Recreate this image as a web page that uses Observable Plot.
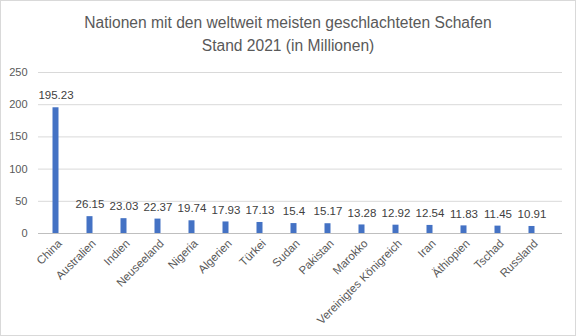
<!DOCTYPE html>
<html><head><meta charset="utf-8">
<script src="https://cdn.jsdelivr.net/npm/d3@7"></script>
<script src="https://cdn.jsdelivr.net/npm/@observablehq/plot@0.6"></script>
<style>
body{margin:0;background:#fff;}
#wrap{position:relative;width:576px;height:336px;box-sizing:border-box;border:1px solid #d9d9d9;overflow:hidden;font-family:"Liberation Sans",Arial,sans-serif;}
#title{text-align:center;color:#595959;font-size:15.6px;line-height:23px;padding-top:10px;height:46px;}
#chart svg{display:block;}
</style></head>
<body><div id="wrap"><div id="title">Nationen mit den weltweit meisten geschlachteten Schafen<br>Stand 2021 (in Millionen)</div><div id="chart"></div></div>
<script>
const countries = ["China","Australien","Indien","Neuseeland","Nigeria","Algerien","Türkei","Sudan","Pakistan","Marokko","Vereinigtes Königreich","Iran","Äthiopien","Tschad","Russland"];
const values = [195.23,26.15,23.03,22.37,19.74,17.93,17.13,15.4,15.17,13.28,12.92,12.54,11.83,11.45,10.91];
const yTicks = [0,50,100,150,200,250];
const data = countries.map((c,i)=>({country:c,value:values[i]}));
const shift = -6.5;
const plot = Plot.plot({
  width: 574, height: 279,
  marginTop: 15, marginBottom: 103, marginLeft: 37, marginRight: 13,
  style: {fontFamily: '"Liberation Sans",Arial,sans-serif', fontSize: "11px", color: "#595959", background: "#fff"},
  x: {domain: countries, paddingInner: 0.83, paddingOuter: 0.415, label: null},
  y: {domain: [0,250], label: null},
  marks: [
    Plot.gridY(yTicks, {stroke: "#d9d9d9", strokeOpacity: 1}),
    Plot.barY(data, {x: "country", y: "value", fill: "#4472C4", dx: shift}),
    Plot.ruleY([0], {stroke: "#bfbfbf"}),
    Plot.text(data, {x: "country", y: "value", text: d => String(d.value), dy: -12, dx: shift, fill: "#404040", fontSize: 11.5}),
    Plot.axisY(yTicks, {tickSize: 0, tickPadding: 11, fill: "#595959", fontSize: 11, label: null}),
    Plot.axisX({tickSize: 0, tickRotate: -45, tickPadding: 8, dx: 4 + shift, fill: "#595959", fontSize: 11.5, label: null})
  ]
});
document.getElementById("chart").appendChild(plot);
</script></body></html>
